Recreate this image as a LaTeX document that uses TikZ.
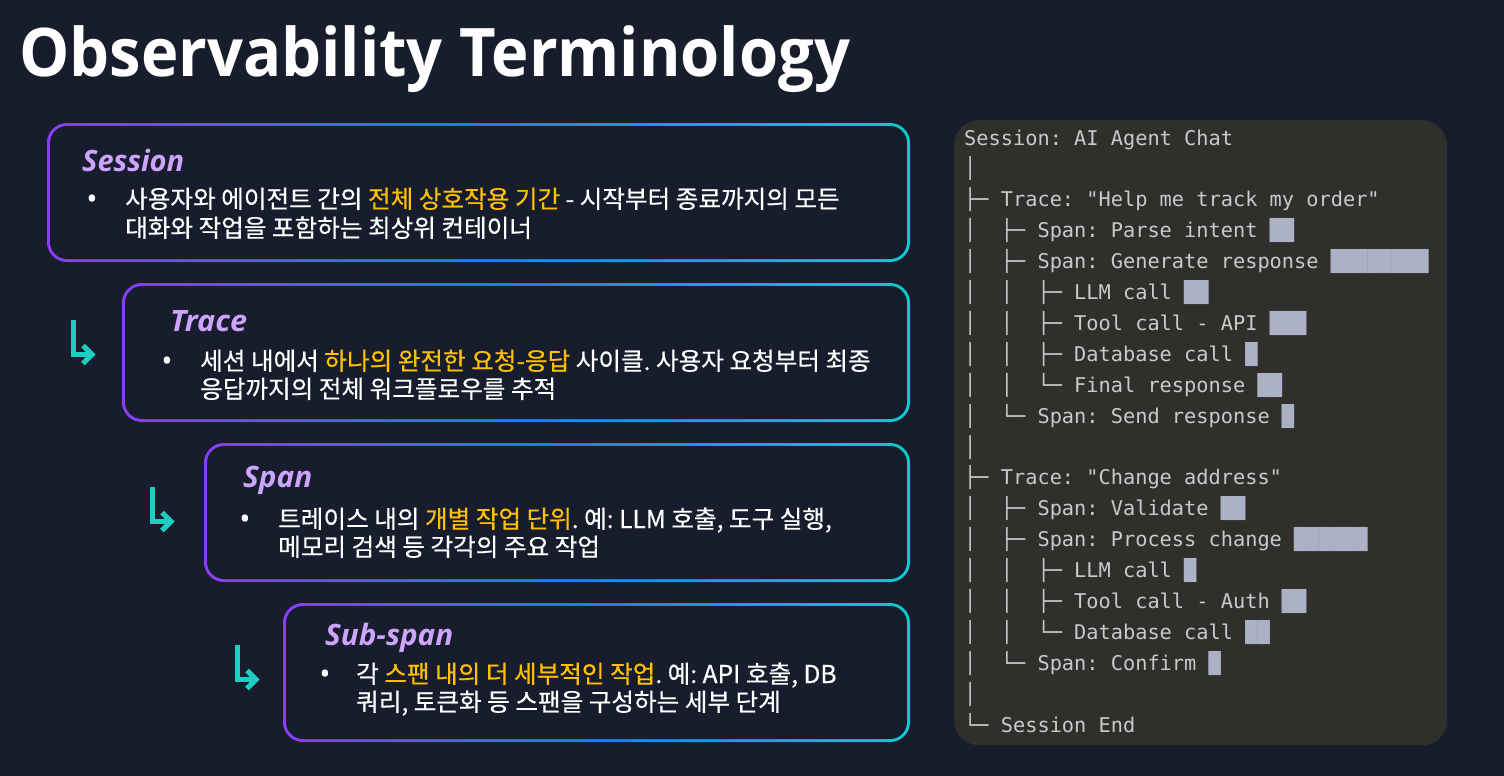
\documentclass[tikz,border=0pt]{standalone}
\usepackage{fontspec}
\usepackage{graphicx}
\newfontfamily\krfont{Noto Sans CJK KR}[FakeBold=0.5]
\newfontfamily\lafont{Open Sans}
\newfontfamily\monofont{DejaVu Sans Mono}
\definecolor{bg}{HTML}{171D2C}
\definecolor{gl}{HTML}{8B3DFA}
\definecolor{gm}{HTML}{1E7BF2}
\definecolor{gr}{HTML}{12C9CF}
\definecolor{lav}{HTML}{CDA4FF}
\definecolor{amber}{HTML}{FFC000}
\definecolor{tealc}{HTML}{1CCFC0}
\definecolor{panel}{HTML}{2F2F2B}
\definecolor{mtxt}{HTML}{C8CACD}
\definecolor{blk}{HTML}{ADB1C6}
\newcommand{\fitw}[2]{\resizebox{#1}{\height}{#2}}
\newcommand{\hl}[1]{\textcolor{amber}{#1}}
\newcommand{\bk}[1]{\textcolor{blk}{#1}}
\tikzset{
  gbox/.style={rectangle, rounded corners=20pt, left color=gl, right color=gr, middle color=gm, minimum height=139pt, inner sep=0pt, outer sep=0pt, anchor=north west},
  ibox/.style={rectangle, rounded corners=17pt, fill=bg, minimum height=133pt, inner sep=0pt, outer sep=0pt, anchor=north west},
  ttl/.style={anchor=base west, inner sep=0pt, text=lav, font=\lafont\bfseries\itshape\fontsize{29.4}{31}\selectfont},
  kt/.style={anchor=base west, inner sep=0pt, text=white, font=\krfont\frenchspacing\fontsize{24.6}{26}\selectfont},
  bul/.style={anchor=base, inner sep=0pt, text=white, font=\lafont\fontsize{30}{32}\selectfont},
  mono/.style={anchor=base west, inner sep=0pt, text=mtxt, font=\monofont\frenchspacing\fontsize{20.3}{22}\selectfont},
  arr/.style={draw=tealc, line width=5pt, line cap=butt, line join=miter},
}
\begin{document}
\frenchspacing
\begin{tikzpicture}[x=1pt,y=-1pt]
\useasboundingbox (0,0) rectangle (1504,776);
\fill[bg] (0,0) rectangle (1504,776);

% title
\node[anchor=base west, inner sep=0pt, text=white, font=\lafont\bfseries\fontsize{67}{70}\selectfont] (title) at (19,77) {\fitw{831pt}{Observability Terminology}};

% boxes
\node[gbox, minimum width=863pt] (sessO) at (47,123) {};
\node[ibox, minimum width=857pt] (sessI) at (50,126) {};
\node[gbox, minimum width=788pt] (traceO) at (122,283) {};
\node[ibox, minimum width=782pt] (traceI) at (125,286) {};
\node[gbox, minimum width=706pt] (spanO) at (204,443) {};
\node[ibox, minimum width=700pt] (spanI) at (207,446) {};
\node[gbox, minimum width=627pt] (subO) at (283,603) {};
\node[ibox, minimum width=621pt] (subI) at (286,606) {};

% session texts
\node[ttl] (sessT) at (82,171) {\fitw{102pt}{Session}};
\node[bul] (sessB) at (92,209) {•};
\node[kt] (sessL1) at (125,208) {사용자와 에이전트 간의 \hl{전체 상호작용 기간} - 시작부터 종료까지의 모든};
\node[kt] (sessL2) at (125,237) {대화와 작업을 포함하는 최상위 컨테이너};

% trace texts
\node[ttl] (traceT) at (170,331) {\fitw{77pt}{Trace}};
\node[bul] (traceB) at (167,371) {•};
\node[kt] (traceL1) at (200,370) {세션 내에서 \hl{하나의 완전한 요청-응답} 사이클. 사용자 요청부터 최종};
\node[kt] (traceL2) at (200,398) {응답까지의 전체 워크플로우를 추적};

% span texts
\node[ttl] (spanT) at (243,487) {\fitw{69pt}{Span}};
\node[bul] (spanB) at (245,529) {•};
\node[kt] (spanL1) at (278,528) {트레이스 내의 \hl{개별 작업 단위}. 예: LLM 호출, 도구 실행,};
\node[kt] (spanL2) at (278,556) {메모리 검색 등 각각의 주요 작업};

% sub-span texts
\node[ttl] (subT) at (325,645) {\fitw{128pt}{Sub-span}};
\node[bul] (subB) at (325,684) {•};
\node[kt] (subL1) at (356,683) {각 \hl{스팬 내의 더 세부적인 작업}. 예: API 호출, DB};
\node[kt] (subL2) at (356,711) {쿼리, 토큰화 등 스팬을 구성하는 세부 단계};

% arrows
\foreach \dx/\dy in {0/0, 79/167, 164/325}{
  \begin{scope}[shift={(\dx,\dy)}]
    \draw[arr] (73.5,320) |- (92,354.5);
    \draw[arr] (83,345.5) -- (92,354.5) -- (83,363.5);
  \end{scope}
}

% right panel
\node[rectangle, rounded corners=25pt, fill=panel, minimum width=493pt, minimum height=625pt, inner sep=0pt, anchor=north west] (panel) at (954,120) {};
\node[mono] (t1) at (964,145.0) {Session: AI Agent Chat};
\node[mono] (t2) at (964,175.9) {│};
\node[mono] (t3) at (964,206.8) {├─ Trace: "Help me track my order"};
\node[mono] (t4) at (964,237.7) {│~~├─ Span: Parse intent \bk{██}};
\node[mono] (t5) at (964,268.6) {│~~├─ Span: Generate response \bk{████████}};
\node[mono] (t6) at (964,299.5) {│~~│~~├─ LLM call \bk{██}};
\node[mono] (t7) at (964,330.4) {│~~│~~├─ Tool call - API \bk{███}};
\node[mono] (t8) at (964,361.3) {│~~│~~├─ Database call \bk{█}};
\node[mono] (t9) at (964,392.2) {│~~│~~└─ Final response \bk{██}};
\node[mono] (t10) at (964,423.1) {│~~└─ Span: Send response \bk{█}};
\node[mono] (t11) at (964,454.0) {│};
\node[mono] (t12) at (964,484.9) {├─ Trace: "Change address"};
\node[mono] (t13) at (964,515.8) {│~~├─ Span: Validate \bk{██}};
\node[mono] (t14) at (964,546.7) {│~~├─ Span: Process change \bk{██████}};
\node[mono] (t15) at (964,577.6) {│~~│~~├─ LLM call \bk{█}};
\node[mono] (t16) at (964,608.5) {│~~│~~├─ Tool call - Auth \bk{██}};
\node[mono] (t17) at (964,639.4) {│~~│~~└─ Database call \bk{██}};
\node[mono] (t18) at (964,670.3) {│~~└─ Span: Confirm \bk{█}};
\node[mono] (t19) at (964,701.2) {│};
\node[mono] (t20) at (964,732.1) {└─ Session End};
\end{tikzpicture}
\end{document}
